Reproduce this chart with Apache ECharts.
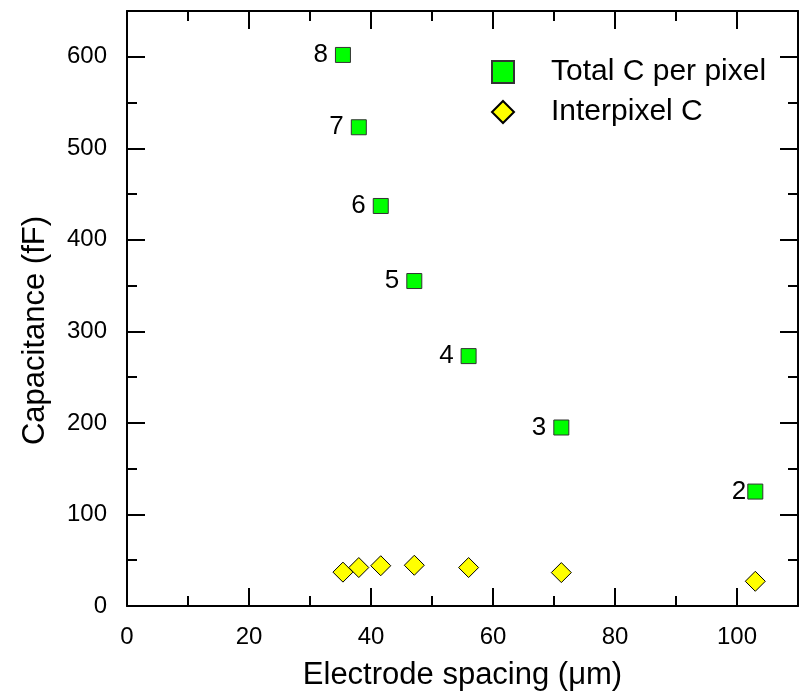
<!DOCTYPE html>
<html>
<head>
<meta charset="utf-8">
<script src="https://cdn.jsdelivr.net/npm/echarts@6/dist/echarts.min.js"></script>
<style>
  html, body { margin: 0; padding: 0; background: #fff; }
  #main { width: 801px; height: 694px; }
</style>
</head>
<body>
<div id="main"></div>
<script>
var myChart = echarts.init(document.getElementById('main'));

// electrode spacing (um)
var spacing = [35.4, 38.0, 41.6, 47.1, 56.0, 71.2, 103.0];
// capacitance (fF)
var totalC = [602, 523, 437, 355, 273, 195, 125];
var interC = [37, 42, 44, 44.5, 42, 36.5, 27];
var pointLabels = ['8', '7', '6', '5', '4', '3', '2'];

var font = '"Liberation Sans", Arial, sans-serif';

function pairs(xs, ys) {
    return xs.map(function (x, k) { return [x, ys[k]]; });
}

var totalData = pairs(spacing, totalC).map(function (p, k) {
    var item = { value: p };
    if (pointLabels[k] === '2') {
        item.label = { distance: 1 };
    }
    return item;
});

var baseAxis = {
    axisLine: { onZero: false, lineStyle: { color: '#000', width: 2 } },
    axisTick: { inside: true, length: 18, lineStyle: { color: '#000', width: 2 } },
    minorTick: { show: true, splitNumber: 2, length: 10, lineStyle: { color: '#000', width: 2 } },
    splitLine: { show: false },
    minorSplitLine: { show: false }
};

function axis(extra) {
    return Object.assign({}, JSON.parse(JSON.stringify(baseAxis)), extra);
}

option = {
    backgroundColor: '#fff',
    animation: false,
    grid: { left: 127, right: 3, top: 11, bottom: 88, containLabel: false, outerBoundsMode: 'none' },
    legend: {
        orient: 'vertical',
        left: 486,
        top: 52,
        itemWidth: 22,
        itemHeight: 22,
        itemGap: 10,
        textStyle: { fontFamily: font, fontSize: 30, color: '#000', padding: [0, 0, 0, 32] },
        data: [
            { name: 'Total C per pixel', icon: 'rect' },
            { name: 'Interpixel C', icon: 'diamond' }
        ]
    },
    xAxis: [
        axis({
            type: 'value', min: 0, max: 110, interval: 20, position: 'bottom',
            name: 'Electrode spacing (μm)', nameLocation: 'middle', nameGap: 54,
            nameTextStyle: { fontFamily: font, fontSize: 31, color: '#000' },
            axisLabel: { fontFamily: font, fontSize: 24, color: '#000', margin: 19, showMaxLabel: false }
        }),
        axis({
            type: 'value', min: 0, max: 110, interval: 20, position: 'top',
            axisLabel: { show: false }
        })
    ],
    yAxis: [
        axis({
            type: 'value', min: 0, max: 650, interval: 100, position: 'left',
            name: 'Capacitance (fF)', nameLocation: 'middle', nameGap: 76,
            nameTextStyle: { fontFamily: font, fontSize: 31, color: '#000', padding: [0, 44, 0, 0] },
            axisLabel: { fontFamily: font, fontSize: 24, color: '#000', margin: 20, showMaxLabel: false }
        }),
        axis({
            type: 'value', min: 0, max: 650, interval: 100, position: 'right',
            axisLabel: { show: false }
        })
    ],
    series: [
        {
            name: 'Total C per pixel',
            type: 'scatter',
            symbol: 'rect',
            symbolSize: 15,
            itemStyle: { color: '#00ff00', borderColor: '#333', borderWidth: 1, opacity: 1 },
            label: {
                show: true, position: 'left', distance: 7,
                fontFamily: font, fontSize: 26, color: '#000',
                formatter: function (p) { return pointLabels[p.dataIndex]; }
            },
            data: totalData
        },
        {
            name: 'Interpixel C',
            type: 'scatter',
            symbol: 'diamond',
            symbolSize: 20,
            itemStyle: { color: '#ffff00', borderColor: '#000', borderWidth: 1, opacity: 1 },
            data: pairs(spacing, interC)
        }
    ]
};

myChart.setOption(option);
</script>
</body>
</html>
